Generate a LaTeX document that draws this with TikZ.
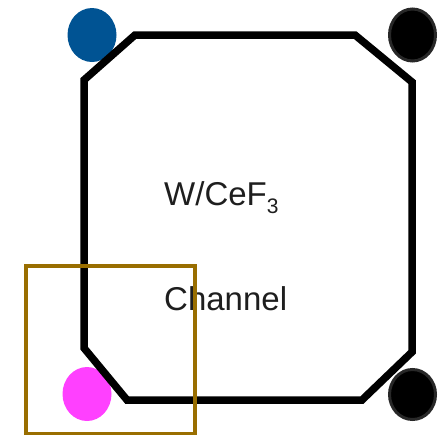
\documentclass[tikz,border=0pt]{standalone}
\usepackage{fontspec}
\setmainfont{Liberation Sans}
\usetikzlibrary{shapes.geometric}
\definecolor{sipmblue}{RGB}{0,83,147}
\definecolor{sipmpink}{RGB}{255,64,255}
\definecolor{boxgold}{RGB}{153,110,0}
\definecolor{ringgray}{RGB}{40,40,40}
\definecolor{txt}{RGB}{30,30,30}
\newcommand{\mysub}[1]{\raisebox{-8pt}{\fontsize{21}{24}\selectfont #1}}
\tikzset{
  dot/.style={ellipse, minimum width=49pt, minimum height=54pt, inner sep=0pt},
  label text/.style={font=\fontsize{33}{38}\selectfont, text=txt, inner sep=0pt},
  frame/.style={line width=7.5pt, line join=miter},
  zoombox/.style={draw=boxgold, line width=4pt}
}
\begin{document}
\begin{tikzpicture}[x=1pt,y=-1pt]
\useasboundingbox (0,0) rectangle (444,434);
% sensors
\node[dot, fill=sipmblue] (tl) at (92,35) {};
\node[dot, fill=black, draw=ringgray, line width=3pt, minimum width=46pt, minimum height=52pt] (tr) at (412.5,35) {};
\node[dot, fill=black, draw=ringgray, line width=3pt, minimum width=46pt, minimum height=50pt] (br) at (412.5,394.5) {};
\node[dot, fill=sipmpink] (bl) at (87,394) {};
% octagon
\coordinate (o1) at (135,35);
\coordinate (o2) at (355,35);
\coordinate (o3) at (412,82);
\coordinate (o4) at (412,352);
\coordinate (o5) at (362,400);
\coordinate (o6) at (127,400);
\coordinate (o7) at (84,348);
\coordinate (o8) at (84,80);
\draw[frame] (o1) -- (o2) -- (o3) -- (o4) -- (o5) -- (o6) -- (o7) -- (o8) -- cycle;
% texts
\node[label text, anchor=base west] (mat) at (164,205) {W/CeF\mysub{3}};
\node[label text, anchor=base west] (ch) at (164,310) {Channel};
% zoom box
\node[zoombox, minimum width=168.5pt, minimum height=168pt, inner sep=0pt, anchor=north west] (zb) at (24,264) {};
\end{tikzpicture}
\end{document}
